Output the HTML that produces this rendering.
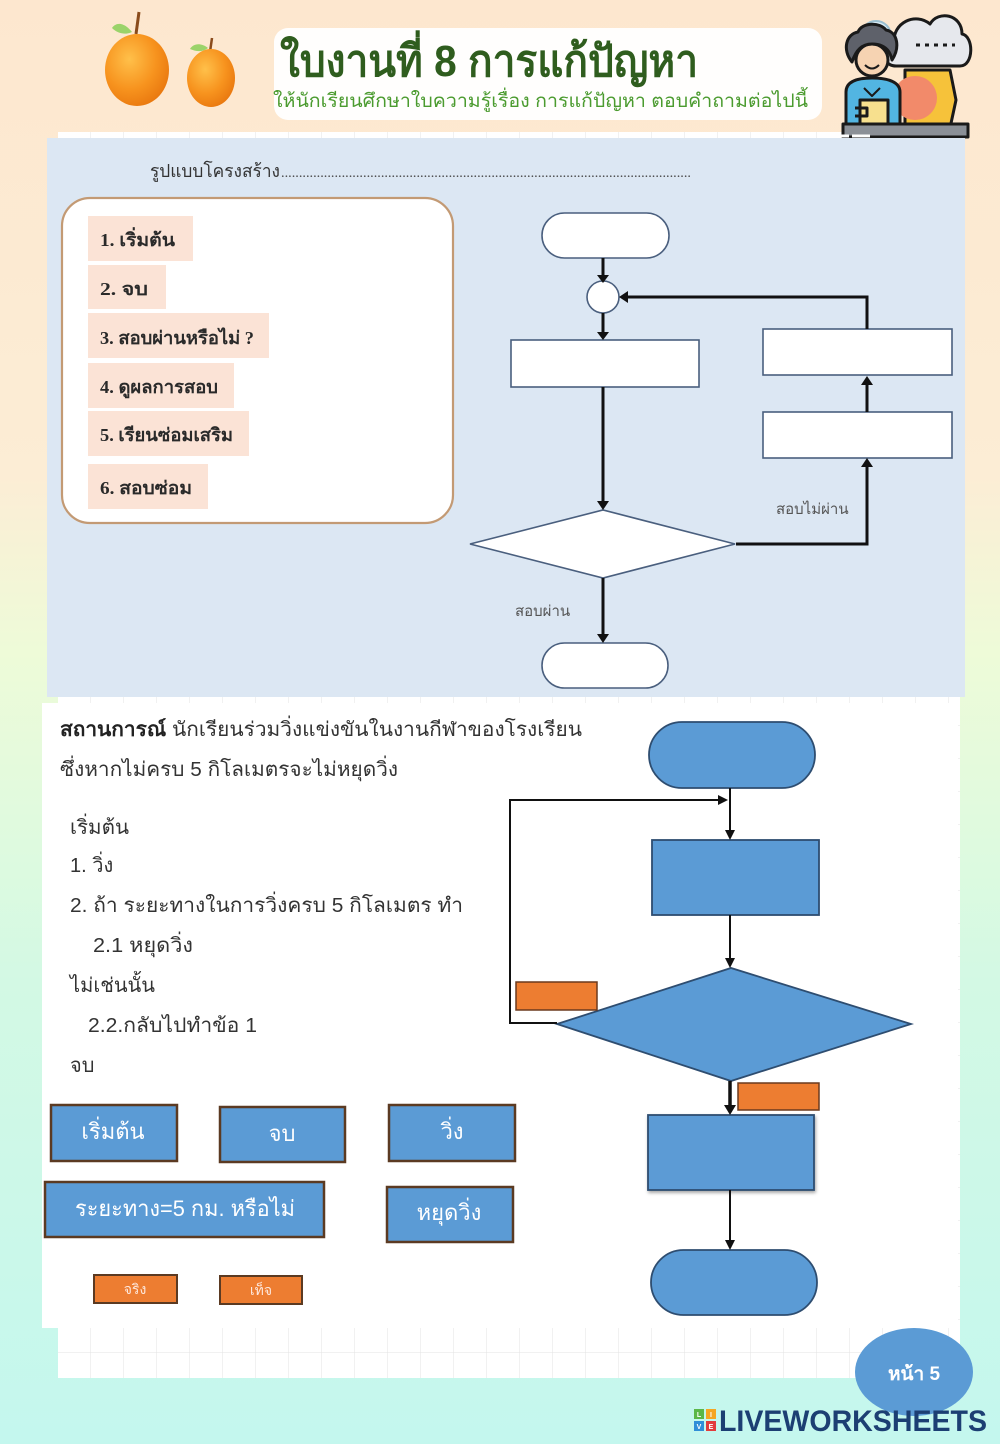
<!DOCTYPE html>
<html>
<head>
<meta charset="utf-8">
<style>
html,body{margin:0;padding:0;}
body{width:1000px;height:1444px;overflow:hidden;font-family:"Liberation Sans","Noto Sans CJK SC",sans-serif;}
svg{display:block;}
.th{font-family:"Liberation Sans","Noto Sans CJK SC",sans-serif;}
.sf{font-family:"Liberation Serif","Noto Serif CJK SC",serif;}
</style>
</head>
<body>
<svg width="1000" height="1444" viewBox="0 0 1000 1444" xmlns="http://www.w3.org/2000/svg">
<defs>
  <linearGradient id="bg" x1="0" y1="0" x2="0" y2="1">
    <stop offset="0" stop-color="#fde7cf"/>
    <stop offset="0.33" stop-color="#fcedd5"/>
    <stop offset="0.45" stop-color="#eefbd8"/>
    <stop offset="0.68" stop-color="#d3f9e4"/>
    <stop offset="1" stop-color="#c4f7ee"/>
  </linearGradient>
  <pattern id="grid" width="33" height="33" patternUnits="userSpaceOnUse" x="58" y="132">
    <path d="M33 0V33H0" fill="none" stroke="#e3e3e3" stroke-width="1"/>
  </pattern>
  <radialGradient id="org" cx="0.38" cy="0.35" r="0.7">
    <stop offset="0" stop-color="#ffc04a"/>
    <stop offset="0.6" stop-color="#f7931e"/>
    <stop offset="1" stop-color="#e9780f"/>
  </radialGradient>
  <filter id="sh" x="-10%" y="-10%" width="130%" height="130%">
    <feDropShadow dx="1" dy="2" stdDeviation="1.5" flood-color="#000" flood-opacity="0.35"/>
  </filter>
</defs>

<!-- background -->
<rect x="0" y="0" width="1000" height="1444" fill="url(#bg)"/>

<!-- paper with grid -->
<rect x="58" y="132" width="902" height="1246" fill="#ffffff"/>
<rect x="58" y="132" width="902" height="1246" fill="url(#grid)"/>

<!-- ===== HEADER ===== -->
<!-- oranges -->
<path d="M136 34 L139 12" stroke="#8a4b1c" stroke-width="3"/>
<path d="M132 32 C124 22 116 22 112 28 C118 34 126 35 132 32 Z" fill="#9bd36a"/>
<ellipse cx="137" cy="70" rx="32" ry="36" fill="url(#org)"/>
<path d="M210 52 L212 38" stroke="#8a4b1c" stroke-width="2.5"/>
<path d="M208 48 C200 42 193 44 190 49 C197 52 203 52 208 48 Z" fill="#9bd36a"/>
<ellipse cx="211" cy="78" rx="24" ry="29" fill="url(#org)"/>

<!-- title box -->
<rect x="274" y="28" width="548" height="92" rx="14" fill="#ffffff" opacity="0.95"/>
<text x="280" y="76" class="th" font-size="44" font-weight="bold" fill="#2f5d1e" textLength="418" lengthAdjust="spacingAndGlyphs">ใบงานที่ 8 การแก้ปัญหา</text>
<text x="273" y="107" class="th" font-size="19" fill="#4b9b2f" textLength="535" lengthAdjust="spacingAndGlyphs">ให้นักเรียนศึกษาใบความรู้เรื่อง การแก้ปัญหา ตอบคำถามต่อไปนี้</text>

<!-- icon -->
<g stroke="#1a1a1a" stroke-width="3" stroke-linejoin="round">
  <circle cx="876" cy="36" r="15" fill="#d9ecf5" stroke="#9bbfd0" stroke-width="2"/>
  <path d="M896 66 C882 66 880 48 894 44 C892 22 916 12 930 24 C938 10 962 14 962 34 C974 36 974 66 960 66 Z" fill="#e6e8ed"/>
  <path d="M916 45 h4 M925 45 h4 M934 45 h4 M943 45 h4 M952 45 h3" stroke-width="3"/>
  <path d="M905 70 L950 70 L956 100 L950 128 L905 128 Z" fill="#f6c23a"/>
  <circle cx="915" cy="98" r="22" fill="#f28a6a" stroke="none"/>
  <path d="M846 124 L846 92 C846 82 856 78 872 78 C888 78 900 82 900 92 L900 124 Z" fill="#52b5e2"/>
  <path d="M864 88 L872 96 L880 88" fill="none" stroke-width="2"/>
  <rect x="860" y="100" width="28" height="24" fill="#f7e08e"/>
  <path d="M855 108 h12 v8 h-12" fill="none"/>
  <circle cx="872" cy="60" r="16" fill="#f6d3b2"/>
  <path d="M852 62 C842 50 846 34 858 32 C862 22 880 22 886 30 C898 32 900 48 892 60 C890 50 884 44 872 44 C862 44 856 50 852 62 Z" fill="#5e616a"/>
  <path d="M865 65 Q872 72 879 65" fill="none" stroke-width="2"/>
  <rect x="843" y="124" width="125" height="13" fill="#8b9097"/>
</g>

<!-- ===== UPPER BLUE PANEL ===== -->
<rect x="47" y="138" width="918" height="559" fill="#dce7f3"/>
<path d="M60 136 H870" stroke="#ffffff" stroke-width="3" stroke-dasharray="30 3"/>

<text x="150" y="177" class="sf" font-size="18" fill="#333" textLength="130" lengthAdjust="spacingAndGlyphs">รูปแบบโครงสร้าง</text>
<text x="281" y="177" class="sf" font-size="14" fill="#444" textLength="410" lengthAdjust="spacingAndGlyphs">...................................................................................................................</text>

<!-- left list box -->
<rect x="62" y="198" width="391" height="325" rx="28" fill="#ffffff" stroke="#c39a74" stroke-width="2.2"/>
<g fill="#fbe3d6">
  <rect x="88" y="216" width="105" height="45"/>
  <rect x="88" y="265" width="78" height="44"/>
  <rect x="88" y="313" width="181" height="45"/>
  <rect x="88" y="363" width="146" height="45"/>
  <rect x="88" y="411" width="161" height="45"/>
  <rect x="88" y="464" width="120" height="45"/>
</g>
<g class="sf" font-size="18" font-weight="bold" fill="#2a2a2a">
  <text x="100" y="246" textLength="75" lengthAdjust="spacingAndGlyphs">1.  เริ่มต้น</text>
  <text x="100" y="295" textLength="48" lengthAdjust="spacingAndGlyphs">2.  จบ</text>
  <text x="100" y="344" textLength="154" lengthAdjust="spacingAndGlyphs">3.  สอบผ่านหรือไม่ ?</text>
  <text x="100" y="393" textLength="118" lengthAdjust="spacingAndGlyphs">4.  ดูผลการสอบ</text>
  <text x="100" y="441" textLength="133" lengthAdjust="spacingAndGlyphs">5.  เรียนซ่อมเสริม</text>
  <text x="100" y="494" textLength="92" lengthAdjust="spacingAndGlyphs">6.  สอบซ่อม</text>
</g>

<!-- upper flowchart -->
<g fill="#ffffff" stroke="#4a5f7e" stroke-width="1.6">
  <rect x="542" y="213" width="127" height="45" rx="22.5"/>
  <circle cx="603" cy="297" r="16"/>
  <rect x="511" y="340" width="188" height="47"/>
  <rect x="763" y="329" width="189" height="46"/>
  <rect x="763" y="412" width="189" height="46"/>
  <polygon points="470,544 603,510 735,544 603,578"/>
  <rect x="542" y="643" width="126" height="45" rx="22.5"/>
</g>
<g stroke="#111" stroke-width="3" fill="none">
  <path d="M603 258 V276"/>
  <path d="M603 313 V333"/>
  <path d="M603 387 V502"/>
  <path d="M736 544 H867 V466"/>
  <path d="M867 412 V384"/>
  <path d="M867 329 V297 H627"/>
  <path d="M603 578 V635"/>
</g>
<g fill="#111">
  <polygon points="597,275 609,275 603,283"/>
  <polygon points="597,332 609,332 603,340"/>
  <polygon points="597,501 609,501 603,510"/>
  <polygon points="861,467 873,467 867,458"/>
  <polygon points="861,385 873,385 867,376"/>
  <polygon points="628,291 628,303 619,297"/>
  <polygon points="597,634 609,634 603,643"/>
</g>
<text x="776" y="514" class="th" font-size="15" fill="#555">สอบไม่ผ่าน</text>
<text x="515" y="616" class="th" font-size="15" fill="#555">สอบผ่าน</text>

<!-- ===== LOWER WHITE SECTION ===== -->
<rect x="42" y="703" width="916" height="625" fill="#ffffff"/>

<text x="60" y="736" class="th" font-size="20" fill="#333" textLength="522" lengthAdjust="spacingAndGlyphs"><tspan font-weight="bold" fill="#222">สถานการณ์</tspan> นักเรียนร่วมวิ่งแข่งขันในงานกีฬาของโรงเรียน</text>
<text x="60" y="776" class="th" font-size="20" fill="#333" textLength="338" lengthAdjust="spacingAndGlyphs">ซึ่งหากไม่ครบ 5 กิโลเมตรจะไม่หยุดวิ่ง</text>

<g class="th" font-size="20" fill="#333">
  <text x="70" y="834" textLength="59" lengthAdjust="spacingAndGlyphs">เริ่มต้น</text>
  <text x="70" y="872">1. วิ่ง</text>
  <text x="70" y="912" textLength="393" lengthAdjust="spacingAndGlyphs">2. ถ้า ระยะทางในการวิ่งครบ 5 กิโลเมตร ทำ</text>
  <text x="93" y="952" textLength="100" lengthAdjust="spacingAndGlyphs">2.1 หยุดวิ่ง</text>
  <text x="70" y="992" textLength="85" lengthAdjust="spacingAndGlyphs">ไม่เช่นนั้น</text>
  <text x="88" y="1032" textLength="169" lengthAdjust="spacingAndGlyphs">2.2.กลับไปทำข้อ 1</text>
  <text x="70" y="1072">จบ</text>
</g>

<!-- answer tiles -->
<g fill="#5b9bd5" stroke="#5b3a22" stroke-width="2.5">
  <rect x="51" y="1105" width="126" height="56"/>
  <rect x="220" y="1107" width="125" height="55"/>
  <rect x="389" y="1105" width="126" height="56"/>
  <rect x="45" y="1182" width="279" height="55"/>
  <rect x="387" y="1187" width="126" height="55"/>
</g>
<g fill="#ed7d31" stroke="#5b3a22" stroke-width="2">
  <rect x="94" y="1275" width="83" height="28"/>
  <rect x="220" y="1276" width="82" height="28"/>
</g>
<g class="th" font-size="22" fill="#ffffff" text-anchor="middle">
  <text x="113" y="1139">เริ่มต้น</text>
  <text x="282" y="1141">จบ</text>
  <text x="452" y="1139">วิ่ง</text>
  <text x="185" y="1216" textLength="220" lengthAdjust="spacingAndGlyphs">ระยะทาง=5 กม. หรือไม่</text>
  <text x="449" y="1220">หยุดวิ่ง</text>
</g>
<g class="th" font-size="14" fill="#fde7dc" text-anchor="middle">
  <text x="135" y="1294">จริง</text>
  <text x="261" y="1295">เท็จ</text>
</g>

<!-- lower flowchart -->
<g fill="#5b9bd5" stroke="#2e4d70" stroke-width="1.8">
  <rect x="649" y="722" width="166" height="66" rx="33"/>
  <rect x="652" y="840" width="167" height="75"/>
  <polygon points="557,1024 731,968 911,1024 731,1081"/>
  <rect x="648" y="1115" width="166" height="75" filter="url(#sh)"/>
  <rect x="651" y="1250" width="166" height="65" rx="32.5"/>
</g>
<g fill="#ed7d31" stroke="#6b3a1e" stroke-width="1.5">
  <rect x="516" y="982" width="81" height="28"/>
  <rect x="738" y="1083" width="81" height="27"/>
</g>
<g stroke="#111" stroke-width="2" fill="none">
  <path d="M730 788 V831"/>
  <path d="M557 1023 H510 V800 H718"/>
  <path d="M730 915 V959"/>
  <path d="M730 1081 V1106" stroke-width="3.5"/>
  <path d="M730 1190 V1241"/>
</g>
<g fill="#111">
  <polygon points="725,830 735,830 730,840"/>
  <polygon points="718,795 718,805 728,800"/>
  <polygon points="725,958 735,958 730,968"/>
  <polygon points="724,1105 736,1105 730,1115"/>
  <polygon points="725,1240 735,1240 730,1250"/>
</g>

<!-- ===== FOOTER ===== -->
<ellipse cx="914" cy="1372" rx="59" ry="44" fill="#5b9bd5"/>
<text x="914" y="1380" class="th" font-size="19" font-weight="bold" fill="#ffffff" text-anchor="middle">หน้า 5</text>

<rect x="694" y="1409" width="10" height="10" fill="#5bb748"/>
<rect x="706" y="1409" width="10" height="10" fill="#f5a623"/>
<rect x="694" y="1421" width="10" height="10" fill="#2f8fd8"/>
<rect x="706" y="1421" width="10" height="10" fill="#e23c3c"/>
<g font-family="Liberation Sans, sans-serif" font-size="7" font-weight="bold" fill="#fff" text-anchor="middle">
  <text x="699" y="1417">L</text><text x="711" y="1417">I</text>
  <text x="699" y="1429">V</text><text x="711" y="1429">E</text>
</g>
<text x="719" y="1431" font-family="Liberation Sans, sans-serif" font-size="30" font-weight="bold" fill="#1c3f73" textLength="268" lengthAdjust="spacingAndGlyphs">LIVEWORKSHEETS</text>
</svg>
</body>
</html>
